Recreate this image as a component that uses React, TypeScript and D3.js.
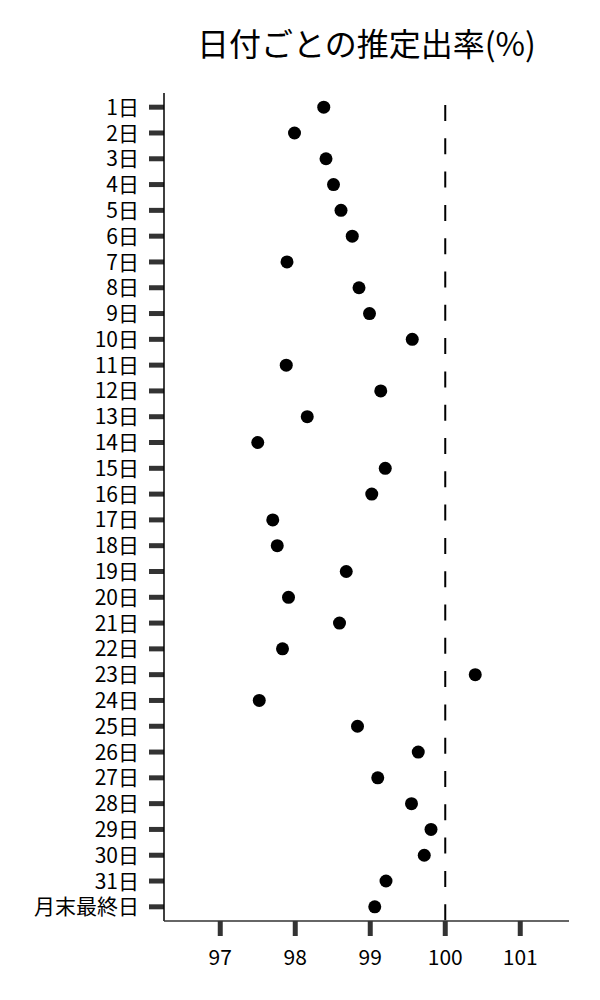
import * as d3 from 'd3';

const days: string[] = [
    '1日', '2日', '3日', '4日', '5日', '6日', '7日', '8日', '9日', '10日',
    '11日', '12日', '13日', '14日', '15日', '16日', '17日', '18日', '19日', '20日',
    '21日', '22日', '23日', '24日', '25日', '26日', '27日', '28日', '29日', '30日',
    '31日', '月末最終日'
];

const rates: number[] = [
    98.38, 97.99, 98.41, 98.51, 98.61, 98.76, 97.89, 98.85, 98.99, 99.56,
    97.88, 99.14, 98.16, 97.50, 99.20, 99.02, 97.70, 97.76, 98.68, 97.91,
    98.59, 97.83, 100.40, 97.52, 98.83, 99.64, 99.10, 99.55, 99.81, 99.72,
    99.21, 99.06
];

const xTicks: number[] = [97, 98, 99, 100, 101];
const refValue = 100;
const title = '日付ごとの推定出率(%)';

const App = () => {
    const width = 600;
    const height = 1000;
    const margin = { top: 93, right: 31, bottom: 79, left: 164 };
    const font = '"Noto Sans CJK JP", "Noto Sans", sans-serif';

    const x = d3.scaleLinear()
        .domain([96.25, 101.65])
        .range([margin.left, width - margin.right]);

    const y = d3.scalePoint<string>()
        .domain(days)
        .range([margin.top, height - margin.bottom])
        .padding(0.55);

    const bottom = height - margin.bottom;
    const dashPeriod = 33.3;

    return (
        <div style={{ position: 'fixed', left: 0, top: 0 }}>
            <svg width={width} height={height} style={{ display: 'block', background: '#fff' }}>
                {/* title */}
                <text x={(margin.left + width - margin.right) / 2} y={56} textAnchor="middle"
                    fontFamily={font} fontSize={32} fill="#000">{title}</text>

                {/* reference line */}
                <line x1={x(refValue)} x2={x(refValue)} y1={margin.top} y2={bottom}
                    stroke="#000" strokeWidth={2} strokeDasharray="16 17.3"
                    strokeDashoffset={-(12 - dashPeriod)} />

                {/* y ticks + labels */}
                {days.map(d => (
                    <g key={d} transform={`translate(0,${y(d)})`}>
                        <line x1={margin.left - 15} x2={margin.left} stroke="#333" strokeWidth={5} />
                        <text x={margin.left - 25} dy="0.36em" textAnchor="end"
                            fontFamily={font} fontSize={21} fill="#000">{d}</text>
                    </g>
                ))}

                {/* x ticks + labels */}
                {xTicks.map(t => (
                    <g key={t} transform={`translate(${x(t)},0)`}>
                        <line y1={bottom} y2={bottom + 15} stroke="#333" strokeWidth={5} />
                        <text y={bottom + 44} textAnchor="middle"
                            fontFamily={font} fontSize={21} fill="#000">{t}</text>
                    </g>
                ))}

                {/* axis lines */}
                <line x1={margin.left} x2={margin.left} y1={margin.top} y2={bottom} stroke="#000" strokeWidth={1.5} />
                <line x1={margin.left} x2={width - margin.right} y1={bottom} y2={bottom} stroke="#333" strokeWidth={1.5} />

                {/* points */}
                {rates.map((v, i) => (
                    <circle key={days[i]} cx={x(v)} cy={y(days[i])} r={6.5} fill="#000" />
                ))}
            </svg>
        </div>
    );
};

export default App;
